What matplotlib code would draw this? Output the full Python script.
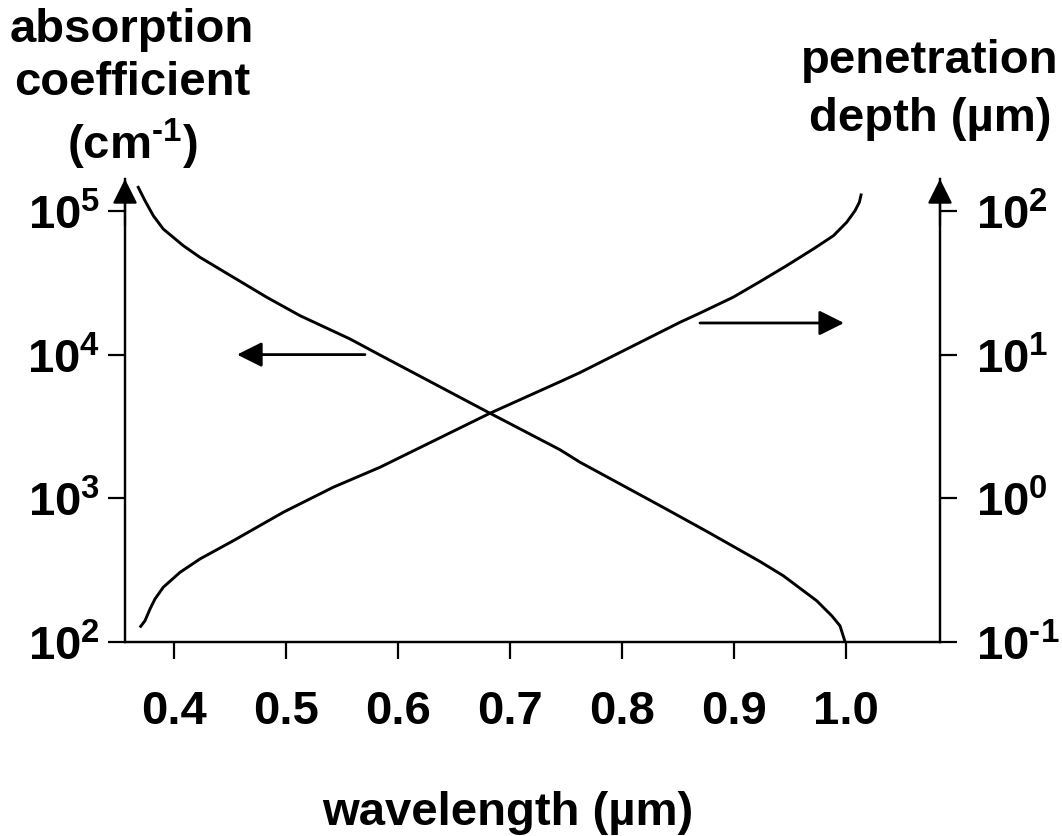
import matplotlib
matplotlib.use("Agg")
import matplotlib.pyplot as plt
from matplotlib.ticker import NullLocator

plt.rcParams['font.family'] = ['Liberation Sans', 'DejaVu Sans']
plt.rcParams['font.weight'] = 'bold'
plt.rcParams['mathtext.fontset'] = 'custom'
plt.rcParams['mathtext.rm'] = 'Liberation Sans:bold'
plt.rcParams['mathtext.bf'] = 'Liberation Sans:bold'
plt.rcParams['mathtext.default'] = 'bf'

# absorption coefficient (cm-1), left axis
wl_abs = [0.3681, 0.3741, 0.3815, 0.3904, 0.4083, 0.4232, 0.4530, 0.4828,
          0.5125, 0.5571, 0.5839, 0.6821, 0.7446, 0.7625, 0.8339, 0.8756,
          0.8994, 0.9232, 0.9440, 0.9738, 0.9872, 0.9946, 0.9991]
log_abs = [5.164, 5.071, 4.967, 4.874, 4.758, 4.677, 4.538, 4.399,
           4.271, 4.109, 3.997, 3.592, 3.338, 3.251, 2.949, 2.770,
           2.665, 2.560, 2.461, 2.287, 2.183, 2.113, 2.002]

# penetration depth (um), right axis
wl_pen = [0.3703, 0.3741, 0.3786, 0.3830, 0.3904, 0.4054, 0.4232, 0.4530,
          0.4976, 0.5422, 0.5839, 0.6821, 0.7446, 0.7625, 0.8518, 0.8696,
          0.8994, 0.9232, 0.9470, 0.9708, 0.9887, 1.0006, 1.0080, 1.0119,
          1.0134]
log_pen = [-0.891, -0.852, -0.770, -0.701, -0.619, -0.515, -0.422, -0.295,
           -0.097, 0.077, 0.216, 0.592, 0.811, 0.875, 1.225, 1.289,
           1.400, 1.508, 1.619, 1.735, 1.827, 1.921, 2.001, 2.060,
           2.111]

xticks = [0.4, 0.5, 0.6, 0.7, 0.8, 0.9, 1.0]
xlabels = ['0.4', '0.5', '0.6', '0.7', '0.8', '0.9', '1.0']
left_ticks = [1e2, 1e3, 1e4, 1e5]
left_labels = [r'$10^{2}$', r'$10^{3}$', r'$10^{4}$', r'$10^{5}$']
right_ticks = [1e-1, 1e0, 1e1, 1e2]
right_labels = [r'$10^{\text{-}1}$', r'$10^{0}$', r'$10^{1}$', r'$10^{2}$']

fs = 34
W, H = 1062, 837
fig = plt.figure(figsize=(W / 100, H / 100), dpi=100)
ax = fig.add_axes([125 / W, 1 - 643 / H, (940 - 125) / W, (643 - 180) / H])
ax2 = ax.twinx()

ax.plot(wl_abs, [10 ** v for v in log_abs], color='black', lw=2.1)
ax2.plot(wl_pen, [10 ** v for v in log_pen], color='black', lw=2.1)

ax.set_xlim(0.35625, 1.0839)
ax.set_yscale('log')
ax2.set_yscale('log')
ax.set_ylim(1e2, 10 ** 5.222)
ax2.set_ylim(1e-1, 10 ** 2.222)
for a in (ax, ax2):
    a.yaxis.set_minor_locator(NullLocator())
    a.spines['top'].set_visible(False)
    for s in a.spines.values():
        s.set_linewidth(1.6)

ax.set_xticks(xticks)
ax.set_xticklabels(xlabels, fontsize=fs, fontweight='bold')
ax.set_yticks(left_ticks)
ax.set_yticklabels(left_labels, fontsize=fs)
ax2.set_yticks(right_ticks)
ax2.set_yticklabels(right_labels, fontsize=fs)
ax.tick_params(axis='x', direction='out', length=12, width=1.6, pad=22)
ax.tick_params(axis='y', direction='out', length=12, width=1.6, pad=6)
ax2.tick_params(axis='y', direction='out', length=12, width=1.6, pad=14)

# axis arrow heads
arr = dict(arrowstyle='-|>', color='black', lw=1.6, mutation_scale=38,
           shrinkA=0, shrinkB=0)
ax.annotate('', xy=(0, 1), xytext=(0, 0.9), xycoords='axes fraction',
            arrowprops=arr, annotation_clip=False)
ax.annotate('', xy=(1, 1), xytext=(1, 0.9), xycoords='axes fraction',
            arrowprops=arr, annotation_clip=False)

# which-axis arrows
arr2 = dict(arrowstyle='-|>', color='black', lw=2, mutation_scale=38,
            shrinkA=0, shrinkB=0)
ax.annotate('', xy=(0.4563, 1e4), xytext=(0.5705, 1e4), arrowprops=arr2)
ax2.annotate('', xy=(0.9982, 10 ** 1.22), xytext=(0.8696, 10 ** 1.22),
             arrowprops=arr2)

fig.text(132 / W, 1 - 8 / H, 'absorption\ncoefficient\n(cm$^{\\text{-}1}$)',
         ha='center', va='top', ma='center', fontsize=fs, fontweight='bold',
         linespacing=1.27)
fig.text(930 / W, 1 - 39 / H, 'penetration\ndepth (µm)',
         ha='center', va='top', ma='center', fontsize=fs, fontweight='bold',
         linespacing=1.42)
fig.text(508 / W, 1 - 825 / H, 'wavelength (µm)', ha='center',
         va='baseline', fontsize=fs, fontweight='bold')

fig.savefig('out.png', dpi=100)
